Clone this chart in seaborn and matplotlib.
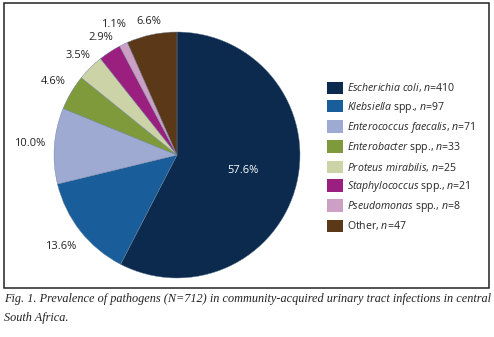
import matplotlib
matplotlib.use("Agg")
import matplotlib.pyplot as plt
import matplotlib.patches as mpatches
import numpy as np
import seaborn as sns

organisms = ["Escherichia coli", "Klebsiella", "Enterococcus faecalis", "Enterobacter",
             "Proteus mirabilis", "Staphylococcus", "Pseudomonas", "Other"]
suffixes = ["", " spp.", "", " spp.", "", " spp.", " spp.", ""]
counts = [410, 97, 71, 33, 25, 21, 8, 47]
colors = ["#0b2a4e", "#1a5d9b", "#9eaad2", "#7f9a3b", "#cbd3a7",
          "#9a1f7f", "#cc9fc5", "#5b3817"]
# radial distance of each percentage label (style only)
label_radius = [0.55, 1.2, 1.2, 1.17, 1.14, 1.14, 1.18, 1.11]

sns.set_theme(style="white")
plt.rcParams["font.family"] = ["Open Sans", "DejaVu Sans"]
plt.rcParams["mathtext.fontset"] = "custom"
plt.rcParams["mathtext.it"] = "Open Sans:italic"
plt.rcParams["mathtext.rm"] = "Open Sans"

W, H = 494, 337
fig = plt.figure(figsize=(W / 100, H / 100), dpi=100)

# frame around the chart
fig.patches.append(mpatches.Rectangle((4 / W, 1 - 288 / H), 485 / W, 285 / H,
                                      transform=fig.transFigure, fill=False,
                                      edgecolor="#222222", linewidth=1.1))

cx, cy, r = 177, 155, 123
ax = fig.add_axes([(cx - r) / W, 1 - (cy + r) / H, 2 * r / W, 2 * r / H])
wedges, texts, autotexts = ax.pie(counts, colors=colors, startangle=90, counterclock=False,
                                  autopct="%.1f%%", pctdistance=1.17,
                                  wedgeprops=dict(linewidth=0.3, edgecolor="#6a7f99"),
                                  textprops=dict(fontsize=8, color="#222222"))
ax.set_xlim(-1, 1)
ax.set_ylim(-1, 1)
ax.set_aspect("equal")

for w, t, d in zip(wedges, autotexts, label_radius):
    mid = np.deg2rad((w.theta1 + w.theta2) / 2)
    t.set_position((d * np.cos(mid), d * np.sin(mid)))
autotexts[0].set_color("white")

labels = []
for name, suf, n in zip(organisms, suffixes, counts):
    if name == "Other":
        labels.append(r"Other, $\mathit{n}$=%d" % n)
    else:
        it = name.replace(" ", r"\ ")
        labels.append(r"$\mathit{%s}$%s, $\mathit{n}$=%d" % (it, suf, n))

handles = [mpatches.Patch(facecolor=c, edgecolor="none") for c in colors]
fig.legend(handles, labels, loc="upper left", bbox_to_anchor=(320 / W, 1 - 74 / H),
           frameon=False, fontsize=7.6, handlelength=1.45, handleheight=1.45,
           handletextpad=0.45, labelspacing=0.5, borderpad=0.2)

cap_kw = dict(family="Liberation Serif", style="italic", fontsize=8.8, va="center",
              color="#222222")
fig.text(4 / W, 1 - 299 / H,
         "Fig. 1. Prevalence of pathogens (N=712) in community-acquired urinary tract infections in central",
         **cap_kw)
fig.text(4 / W, 1 - 318 / H, "South Africa.", **cap_kw)

fig.savefig("out.png", dpi=100)
